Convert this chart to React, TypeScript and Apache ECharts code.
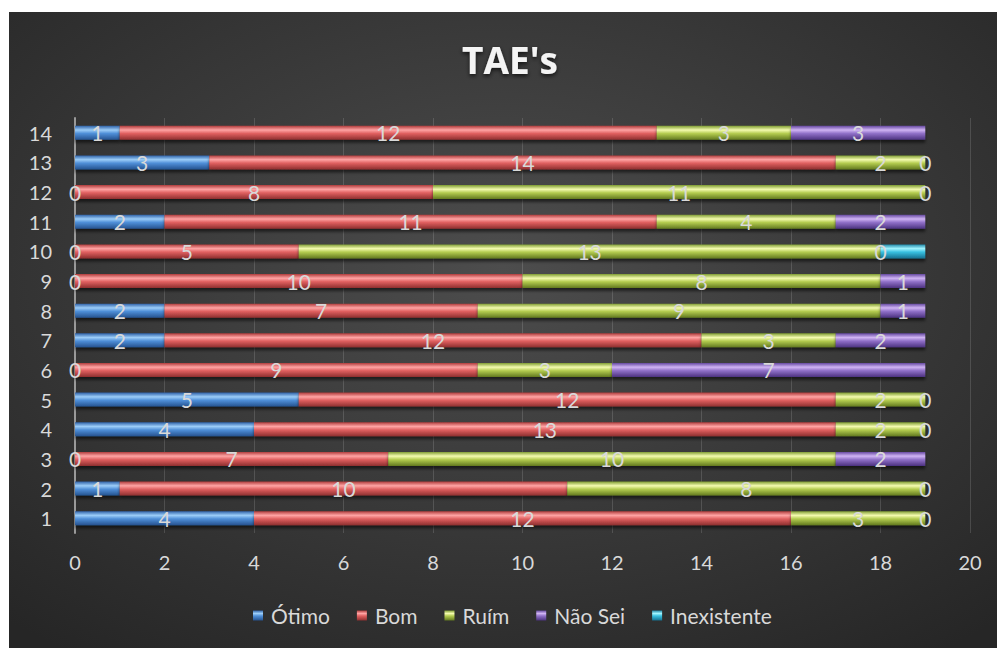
import React, { useEffect, useRef } from "react";
import * as echarts from "echarts";

const categories = ["1", "2", "3", "4", "5", "6", "7", "8", "9", "10", "11", "12", "13", "14"];
const otimo = [4, 1, 0, 4, 5, 0, 2, 2, 0, 0, 2, 0, 3, 1];
const bom = [12, 10, 7, 13, 12, 9, 12, 7, 10, 5, 11, 8, 14, 12];
const ruim = [3, 8, 10, 2, 2, 3, 3, 9, 8, 13, 4, 11, 2, 3];
const naoSei = [0, 0, 2, 0, 0, 7, 2, 1, 1, 0, 2, 0, 0, 3];
const inexistente = [null, null, null, null, null, null, null, null, null, 1, null, null, null, null];
const seriesNames = ["Ótimo", "Bom", "Ruím", "Não Sei", "Inexistente"];
const xTicks = { min: 0, max: 20, interval: 2 };
const titleText = "TAE's";

const palettes = [
  ["#2f62a8", "#9ccdf8", "#4f8fd8", "#25528f"],
  ["#b03c3c", "#ffa4a4", "#e06060", "#8e2f2f"],
  ["#7f9c32", "#f4fbb0", "#b4cc50", "#62791f"],
  ["#6548a0", "#d0b4f4", "#9070c8", "#4c3280"],
  ["#2088a8", "#a0f4ff", "#38c0e0", "#157090"],
];

const grad = (p: string[]) => ({
  type: "linear",
  x: 0,
  y: 0,
  x2: 0,
  y2: 1,
  colorStops: [
    { offset: 0, color: p[0] },
    { offset: 0.3, color: p[1] },
    { offset: 0.55, color: p[2] },
    { offset: 1, color: p[3] },
  ],
});

export default function App() {
  const ref = useRef<HTMLDivElement>(null);
  useEffect(() => {
    if (!ref.current) return;
    const chart = echarts.init(ref.current, undefined, { renderer: "svg" });
    const datasets = [otimo, bom, ruim, naoSei, inexistente];
    const font = "Lato, 'Open Sans', sans-serif";
    chart.setOption({
      animation: false,
      backgroundColor: {
        type: "radial",
        x: 0.5,
        y: 0.4,
        r: 0.75,
        colorStops: [
          { offset: 0, color: "#4d4d4d" },
          { offset: 1, color: "#262626" },
        ],
      },
      textStyle: { fontFamily: font },
      graphic: [
        {
          type: "text",
          x: 501,
          y: 47,
          style: {
            text: titleText,
            fill: "#f4f4f4",
            font: "bold 37px 'Open Sans', sans-serif",
            textAlign: "center",
            textVerticalAlign: "middle",
            textShadowColor: "rgba(0,0,0,0.7)",
            textShadowBlur: 4,
            textShadowOffsetY: 2,
          },
        },
      ],
      legend: {
        left: 239,
        top: 588,
        itemWidth: 10,
        itemHeight: 10,
        itemGap: 27,
        icon: "rect",
        textStyle: { color: "#d9d9d9", fontSize: 21, fontFamily: font, padding: [0, 0, 0, 3] },
        data: seriesNames,
      },
      grid: { left: 66, right: 27, top: 106, height: 415, containLabel: false },
      xAxis: {
        type: "value",
        min: xTicks.min,
        max: xTicks.max,
        interval: xTicks.interval,
        axisLine: { show: false },
        axisTick: { show: false },
        axisLabel: { color: "#d9d9d9", fontSize: 20, margin: 19, fontFamily: font },
        splitLine: { show: true, lineStyle: { color: "rgba(255,255,255,0.14)", width: 1 } },
      },
      yAxis: {
        type: "category",
        data: categories,
        axisLine: { show: true, lineStyle: { color: "#9a9a9a", width: 2 } },
        axisTick: { show: false },
        axisLabel: { color: "#d9d9d9", fontSize: 20, margin: 23, fontFamily: font },
        splitLine: { show: false },
      },
      series: seriesNames.map((name, i) => ({
        name,
        type: "bar",
        stack: "total",
        barWidth: 14,
        data: datasets[i],
        itemStyle: {
          color: grad(palettes[i]),
          shadowColor: "rgba(0,0,0,0.55)",
          shadowBlur: 3,
          shadowOffsetY: 3,
        },
        label: {
          show: i < 4,
          position: "inside",
          color: "#d9d9d9",
          fontSize: 21,
          fontFamily: font,
          offset: [0, 0],
        },
      })),
    });
    return () => chart.dispose();
  }, []);
  return (
    <div
      ref={ref}
      style={{ position: "absolute", left: 9, top: 12, width: 988, height: 636 }}
    />
  );
}
